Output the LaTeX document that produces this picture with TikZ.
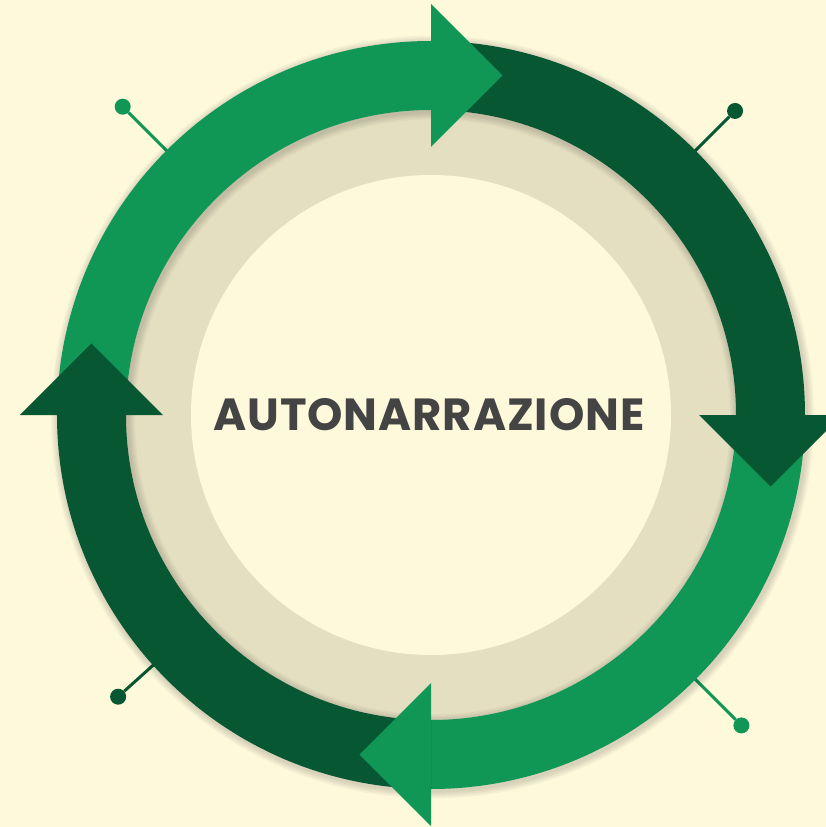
\documentclass[tikz,border=0pt]{standalone}
\usepackage{fontspec}
\newfontfamily\titlefont{Poppins}[LetterSpace=2]
\usepackage{tikz}
\usetikzlibrary{calc}
\usepackage{xcolor}
\definecolor{bgcream}{RGB}{254,249,219}
\definecolor{ringbeige}{RGB}{229,223,193}
\definecolor{lightgr}{RGB}{16,150,85}
\definecolor{darkgr}{RGB}{8,87,51}
\definecolor{txtgrey}{RGB}{68,68,68}
\tikzstyle{pin} = [circle, inner sep=0pt, minimum size=16pt]
\tikzstyle{pinline} = [line width=3pt]
\tikzstyle{ringshadow} = [black, opacity=0.03, even odd rule, shift={(1.5,-2)}]

\begin{document}
\begin{tikzpicture}[x=1pt,y=1pt]
\useasboundingbox (-431,-412) rectangle (395,415);
\fill[bgcream] (-431,-412) rectangle (395,415);

% Beige ring and inner disc
\fill[ringbeige] (0,0) circle (305pt);
\fill[bgcream] (0,0) circle (240pt);

% Pins on the diagonals
\foreach \a/\r/\c [count=\i] in {135/436/lightgr, 45/430/darkgr, 222/421/darkgr, -45/439/lightgr} {
  \node[pin, fill=\c] (dot\i) at (\a:\r) {};
  \coordinate (foot\i) at (\a:360);
  \draw[pinline, \c] (dot\i) -- (foot\i);
}

% Soft shadow under the green ring
\foreach \s in {1,...,5} {
  \pgfmathsetmacro\ro{374+\s*1.5}
  \pgfmathsetmacro\ri{305-\s*1.5}
  \fill[ringshadow] (0,0) circle (\ro pt) (0,0) circle (\ri pt);
}

% Ring bands
\foreach \a/\c in {90/lightgr, 0/darkgr, -90/lightgr, -180/darkgr}
  \fill[\c] ({\a+90}:374pt) arc[start angle=\a+90, end angle=\a, radius=374pt]
    -- (\a:305pt) arc[start angle=\a, end angle=\a+90, radius=305pt] -- cycle;

% Arrow heads
\foreach \a/\c in {90/lightgr, 0/darkgr, -90/lightgr, -180/darkgr}
  \fill[\c] (\a:268pt) -- (\a:411pt) -- ($(\a:339.5pt)+({\a-90}:71.5pt)$) -- cycle;

% Title
\node[font=\titlefont\bfseries\fontsize{45}{52}\selectfont, text=txtgrey] (title) at (-2,0) {AUTONARRAZIONE};
\end{tikzpicture}
\end{document}
